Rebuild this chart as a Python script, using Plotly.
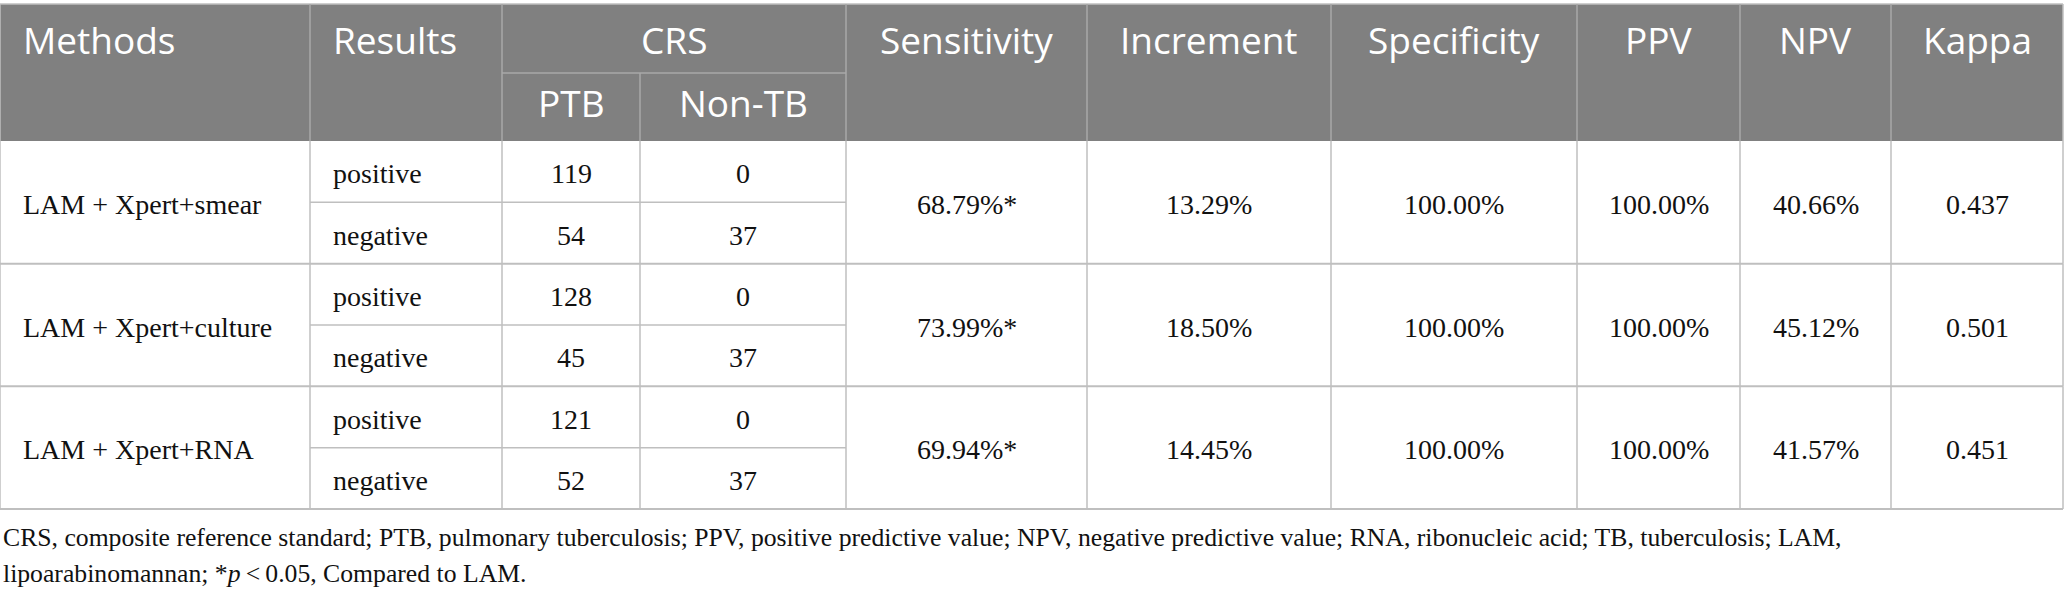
import plotly.graph_objects as go

# ---------------- data ----------------
header_labels = ["Methods", "Results", "CRS", "Sensitivity", "Increment",
                 "Specificity", "PPV", "NPV", "Kappa"]
crs_sub_labels = ["PTB", "Non-TB"]
methods = ["LAM + Xpert+smear", "LAM + Xpert+culture", "LAM + Xpert+RNA"]
results = ["positive", "negative"]
ptb = [[119, 54], [128, 45], [121, 52]]
non_tb = [[0, 37], [0, 37], [0, 37]]
sensitivity = ["68.79%*", "73.99%*", "69.94%*"]
increment = ["13.29%", "18.50%", "14.45%"]
specificity = ["100.00%", "100.00%", "100.00%"]
ppv = ["100.00%", "100.00%", "100.00%"]
npv = ["40.66%", "45.12%", "41.57%"]
kappa = ["0.437", "0.501", "0.451"]
footnote_lines = [
    "CRS, composite reference standard; PTB, pulmonary tuberculosis; PPV, positive predictive value; "
    "NPV, negative predictive value; RNA, ribonucleic acid; TB, tuberculosis; LAM,",
    "lipoarabinomannan; *<i>p</i>\u2009&lt;\u20090.05, Compared to LAM.",
]

# ---------------- layout constants ----------------
W, H = 2068, 601
col_edges = [0, 310, 502, 640, 846, 1087, 1331, 1577, 1740, 1891, 2063]
y_top, y_sub, y_head = 4, 73, 141
group_h = (509 - 141) / 3
pad = 21
HEAD_FILL = "#808080"
HEAD_LINE = "#a8a8a8"
GRID = "#bfbfbf"
SANS = "Open Sans"
SERIF = "Liberation Serif"
HEAD_SIZE = 37
BODY_SIZE = 28
NOTE_SIZE = 25.7

fig = go.Figure()
shapes = []
ann = []

x_left, x_right = col_edges[0], col_edges[-1]

# header background
shapes.append(dict(type="rect", xref="x", yref="y", x0=x_left, x1=x_right, y0=y_top, y1=y_head,
                   fillcolor=HEAD_FILL, line=dict(width=0), layer="below"))
# header top border
shapes.append(dict(type="line", xref="x", yref="y", x0=x_left, x1=x_right, y0=y_top, y1=y_top,
                   line=dict(color=GRID, width=1.5)))
# header vertical lines
for i, xe in enumerate(col_edges):
    y0 = y_sub if i == 3 else y_top
    color = GRID if i in (0, len(col_edges) - 1) else HEAD_LINE
    shapes.append(dict(type="line", xref="x", yref="y", x0=xe, x1=xe, y0=y0, y1=y_head,
                       line=dict(color=color, width=1.5)))
# CRS sub line
shapes.append(dict(type="line", xref="x", yref="y", x0=col_edges[2], x1=col_edges[4], y0=y_sub, y1=y_sub,
                   line=dict(color=HEAD_LINE, width=1.5)))

# header text
spans = [(0, 1), (1, 2), (2, 4), (4, 5), (5, 6), (6, 7), (7, 8), (8, 9), (9, 10)]
for lab, (c0, c1) in zip(header_labels, spans):
    left = lab in ("Methods", "Results")
    ann.append(dict(x=col_edges[c0] + pad if left else (col_edges[c0] + col_edges[c1]) / 2,
                    y=(y_top + y_sub) / 2 + 1, xref="x", yref="y", text=lab, showarrow=False,
                    xanchor="left" if left else "center", yanchor="middle",
                    font=dict(family=SANS, size=HEAD_SIZE, color="white")))
for k, lab in enumerate(crs_sub_labels):
    ann.append(dict(x=(col_edges[2 + k] + col_edges[3 + k]) / 2, y=(y_sub + y_head) / 2 - 5,
                    xref="x", yref="y", text=lab, showarrow=False,
                    xanchor="center", yanchor="middle",
                    font=dict(family=SANS, size=HEAD_SIZE, color="white")))

# body
body_font = dict(family=SERIF, size=BODY_SIZE, color="#111111")
for g in range(len(methods)):
    gy0 = y_head + g * group_h
    gy1 = gy0 + group_h
    gmid = (gy0 + gy1) / 2
    shapes.append(dict(type="line", xref="x", yref="y", x0=x_left, x1=x_right, y0=gy1, y1=gy1,
                       line=dict(color=GRID, width=2)))
    shapes.append(dict(type="line", xref="x", yref="y", x0=col_edges[1], x1=col_edges[4], y0=gmid, y1=gmid,
                       line=dict(color=GRID, width=1.5)))
    for xe in col_edges:
        shapes.append(dict(type="line", xref="x", yref="y", x0=xe, x1=xe, y0=gy0, y1=gy1,
                           line=dict(color=GRID, width=1.5)))
    ann.append(dict(x=col_edges[0] + pad, y=gmid + 2, xref="x", yref="y", text=methods[g],
                    showarrow=False, xanchor="left", yanchor="middle", font=body_font))
    for r in range(2):
        ry = gy0 + (r + 0.5) * group_h / 2 + 2
        ann.append(dict(x=col_edges[1] + pad, y=ry, xref="x", yref="y", text=results[r],
                        showarrow=False, xanchor="left", yanchor="middle", font=body_font))
        ann.append(dict(x=(col_edges[2] + col_edges[3]) / 2, y=ry, xref="x", yref="y",
                        text=str(ptb[g][r]), showarrow=False, xanchor="center", yanchor="middle",
                        font=body_font))
        ann.append(dict(x=(col_edges[3] + col_edges[4]) / 2, y=ry, xref="x", yref="y",
                        text=str(non_tb[g][r]), showarrow=False, xanchor="center", yanchor="middle",
                        font=body_font))
    for c, vals in enumerate([sensitivity, increment, specificity, ppv, npv, kappa]):
        ann.append(dict(x=(col_edges[4 + c] + col_edges[5 + c]) / 2, y=gmid + 2, xref="x", yref="y",
                        text=vals[g], showarrow=False, xanchor="center", yanchor="middle",
                        font=body_font))

# footnote
note_y = [537, 573]
for line, yy in zip(footnote_lines, note_y):
    ann.append(dict(x=1, y=yy, xref="x", yref="y", text=line, showarrow=False,
                    xanchor="left", yanchor="middle",
                    font=dict(family=SERIF, size=NOTE_SIZE, color="#111111")))

fig.update_layout(
    width=W, height=H, margin=dict(l=0, r=0, t=0, b=0),
    paper_bgcolor="white", plot_bgcolor="white",
    xaxis=dict(range=[0, W], visible=False, fixedrange=True),
    yaxis=dict(range=[H, 0], visible=False, fixedrange=True),
    shapes=shapes, annotations=ann, showlegend=False, hovermode=False,
)
fig.write_html("out.html", config={"displayModeBar": False},
               post_script="document.body.style.margin='0';document.body.style.overflow='hidden';")
